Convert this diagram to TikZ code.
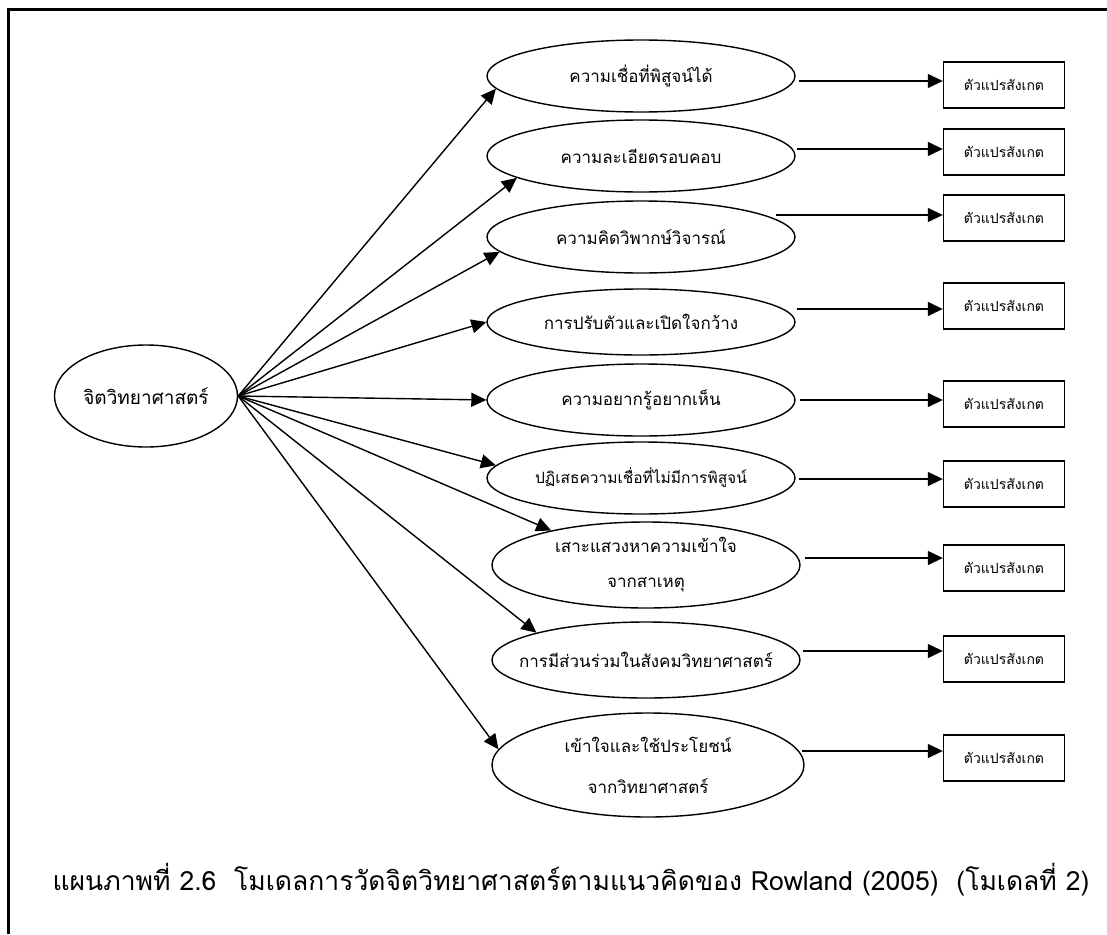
\documentclass[tikz,border=0pt]{standalone}
\usepackage{fontspec}
\setmainfont[Script=Thai]{Loma}
\usetikzlibrary{calc, arrows.meta, positioning, shapes.geometric}

\begin{document}
\begin{tikzpicture}[x=1pt, y=-1pt, line width=1.4pt, font=\fontsize{17}{20}\selectfont]
  % Styles
  \tikzset{trait/.style={draw, ellipse, minimum width=308pt, minimum height=72pt, inner sep=0pt, align=center}}
  \tikzset{obsbox/.style={draw, rectangle, minimum width=121pt, minimum height=46pt, inner sep=0pt, font=\fontsize{14}{16}\selectfont}}
  \tikzset{link/.style={-{Triangle[length=15pt, width=14pt]}}}
  \tikzset{longtext/.style={font=\fontsize{15.5}{18}\selectfont}}

  \useasboundingbox (0,0) rectangle (1107,934);

  % --- frame (cut at right and bottom) ---
  \draw[line width=3.5pt] (8.5,934) -- (8.5,9.5) -- (1107,9.5);

  % --- latent trait on the left ---
  \node[trait, minimum width=183pt, minimum height=102pt, font=\fontsize{19}{22}\selectfont] (psy) at (146,396) {จิตวิทยาศาสตร์};

  % --- the nine components ---
  \node[trait] (c1) at (641,76) {ความเชื่อที่พิสูจน์ได้};
  \node[trait] (c2) at (641,156) {ความละเอียดรอบคอบ};
  \node[trait] (c3) at (641,237) {ความคิดวิพากษ์วิจารณ์};
  \node[trait, minimum height=66pt] (c4) at (641,322) {การปรับตัวและเปิดใจกว้าง};
  \node[trait] (c5) at (641,400) {ความอยากรู้อยากเห็น};
  \node[trait, longtext] (c6) at (641,478) {\makebox[0pt]{ปฏิเสธความเชื่อที่ไม่มีการพิสูจน์}};
  \node[trait, minimum height=86pt] (c7) at (646,565) {เสาะแสวงหาความเข้าใจ\\[15pt]จากสาเหตุ};
  \node[trait, minimum height=76pt] (c8) at (646,660) {\makebox[0pt]{การมีส่วนร่วมในสังคมวิทยาศาสตร์}};
  \node[trait, minimum width=312pt, minimum height=104pt] (c9) at (648,765) {เข้าใจและใช้ประโยชน์\\[21pt]จากวิทยาศาสตร์};

  % --- observed variables on the right ---
  \foreach \i/\y in {1/85, 2/152, 3/218, 4/306, 5/404, 6/484, 7/568, 8/659, 9/758}
    \node[obsbox] (o\i) at (1004,\y) {ตัวแปรสังเกต};

  % --- arrows from the trait to its components ---
  \foreach \i/\a in {1/185, 2/190, 3/186, 4/180, 5/180, 6/175, 7/160, 8/166, 9/174}
    \draw[link] (psy.east) -- (c\i.\a);

  % --- arrows from components to observed variables ---
  \foreach \i/\dx/\dy in {1/3/-4, 2/1/-3, 3/-20/-3, 4/1/3, 5/4/-4, 6/3/-5, 7/4/-10, 8/2/-8, 9/-3/-7}
    \draw[link] ($(c\i.east |- o\i.west)+(\dx,\dy)$) -- ($(o\i.west)+(0,\dy)$);

  % --- caption ---
  \node[font=\fontsize{26.5}{30}\selectfont] (caption) at (571,880)
    {แผนภาพที่ 2.6\ \ โมเดลการวัดจิตวิทยาศาสตร์ตามแนวคิดของ Rowland (2005)\ \ (โมเดลที่ 2)};
\end{tikzpicture}
\end{document}
